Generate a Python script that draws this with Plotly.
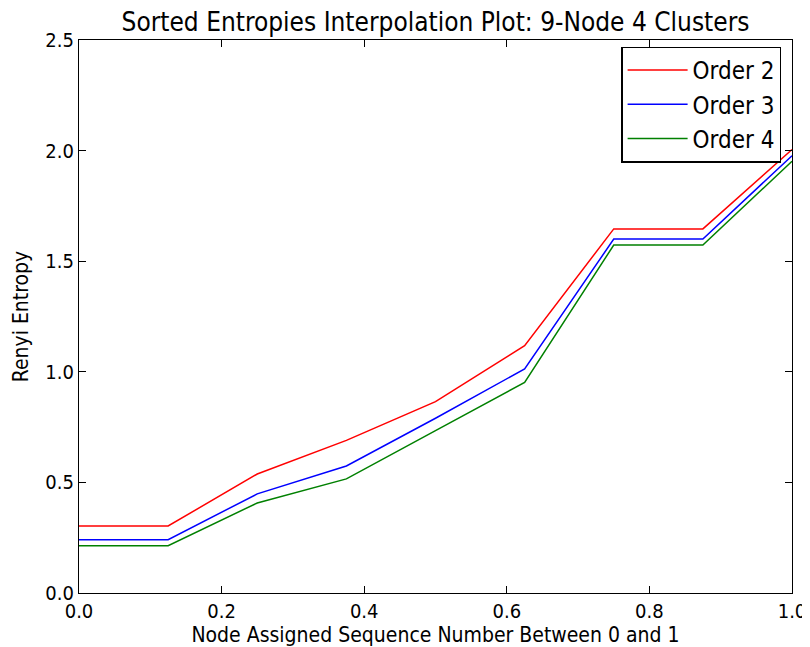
import plotly.graph_objects as go

x_vals = [0.0, 0.125, 0.25, 0.375, 0.5, 0.625, 0.75, 0.875, 1.0]
order2 = [0.303, 0.303, 0.538, 0.690, 0.865, 1.118, 1.646, 1.646, 2.005]
order3 = [0.241, 0.241, 0.448, 0.574, 0.790, 1.013, 1.600, 1.600, 1.977]
order4 = [0.214, 0.214, 0.407, 0.516, 0.734, 0.952, 1.573, 1.573, 1.952]
series_names = ["Order 2", "Order 3", "Order 4"]
colors = ["#ff0000", "#0000ff", "#008000"]

x_ticks = [0.0, 0.2, 0.4, 0.6, 0.8, 1.0]
y_ticks = [0.0, 0.5, 1.0, 1.5, 2.0, 2.5]

FONT = "DejaVu Sans Condensed, DejaVu Sans, sans-serif"

fig = go.Figure()
for name, ys, c in zip(series_names, [order2, order3, order4], colors):
    fig.add_trace(go.Scatter(x=x_vals, y=ys, mode="lines", name=name,
                             line=dict(color=c, width=1.5)))

axis_common = dict(showgrid=False, zeroline=False, showline=True, linecolor="black",
                   linewidth=1.3, mirror="ticks", ticks="inside", ticklen=7,
                   tickcolor="black", tickfont=dict(size=20, color="black", family=FONT))

fig.update_layout(
    width=810, height=647,
    margin=dict(l=71, r=26, t=32, b=62),
    paper_bgcolor="white", plot_bgcolor="white",
    font=dict(family=FONT, color="black"),
    title=dict(text="Sorted Entropies Interpolation Plot: 9-Node 4 Clusters",
               x=0.5, xanchor="center", xref="paper",
               y=1 - 14 / 647, yref="container", yanchor="middle",
               font=dict(size=26, family=FONT, color="black")),
    xaxis=dict(range=[0, 1], tickvals=x_ticks, ticktext=[f"{v:.1f}" for v in x_ticks],
               title=dict(text="Node Assigned Sequence Number Between 0 and 1",
                          font=dict(size=21, family=FONT), standoff=2),
               automargin=False, **axis_common),
    yaxis=dict(range=[0, 2.5], tickvals=y_ticks, ticktext=[f"{v:.1f}" for v in y_ticks],
               title=dict(text="Renyi Entropy", font=dict(size=21, family=FONT), standoff=10),
               automargin=False, **axis_common),
    legend=dict(x=0.985, y=0.988, xanchor="right", yanchor="top",
                bordercolor="black", borderwidth=1.3, bgcolor="white",
                font=dict(size=24, family=FONT, color="black"),
                tracegroupgap=0, itemwidth=60),
    showlegend=True,
)

fig.write_html("out.html")
